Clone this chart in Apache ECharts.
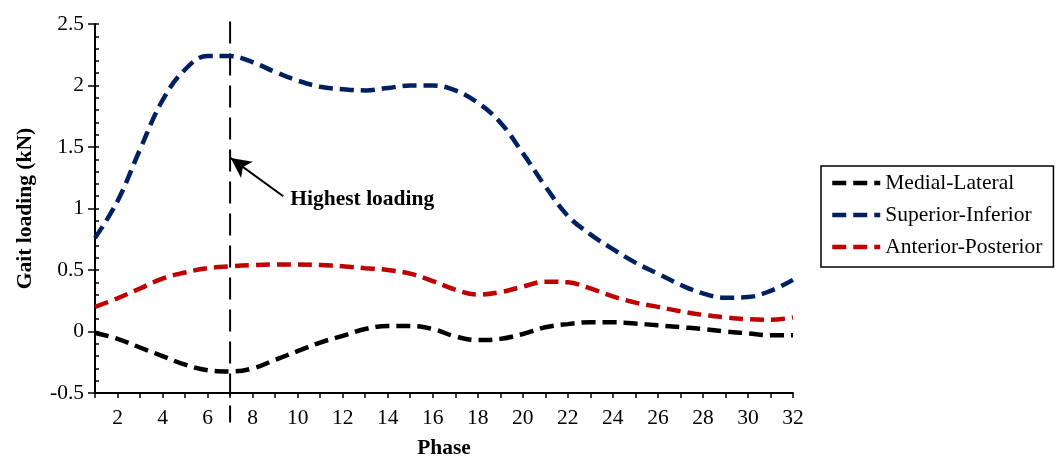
<!DOCTYPE html>
<html>
<head>
<meta charset="utf-8">
<script src="https://cdn.jsdelivr.net/npm/echarts@6/dist/echarts.min.js"></script>
<style>
html,body{margin:0;padding:0;background:#fff;}
#chart{width:1062px;height:457px;}
</style>
</head>
<body>
<div id="chart"></div>
<script>
var phases = [1,2,3,4,5,6,7,8,9,10,11,12,13,14,15,16,17,18,19,20,21,22,23,24,25,26,27,28,29,30,31,32];
var medialLateral = [-0.01,-0.06,-0.13,-0.2,-0.27,-0.315,-0.325,-0.3,-0.23,-0.16,-0.09,-0.035,0.02,0.045,0.045,0.02,-0.04,-0.07,-0.06,-0.02,0.035,0.06,0.075,0.075,0.065,0.05,0.035,0.02,0.0,-0.015,-0.03,-0.03];
var superiorInferior = [0.76,1.06,1.48,1.88,2.13,2.24,2.24,2.19,2.11,2.04,1.99,1.97,1.96,1.98,2.0,2.0,1.96,1.86,1.7,1.45,1.18,0.94,0.79,0.67,0.56,0.47,0.38,0.31,0.275,0.28,0.33,0.42];
var anteriorPosterior = [0.2,0.27,0.35,0.43,0.48,0.515,0.53,0.54,0.545,0.545,0.54,0.53,0.515,0.5,0.47,0.41,0.34,0.3,0.32,0.365,0.405,0.4,0.35,0.285,0.235,0.2,0.165,0.135,0.115,0.1,0.095,0.115];
var seriesNames = ['Medial-Lateral','Superior-Inferior','Anterior-Posterior'];
var seriesColors = ['#000000','#002060','#C00000'];
var peakPhase = 7;
var annotationText = 'Highest loading';

function pairs(vals){ return phases.map(function(p,i){ return [p, vals[i]]; }); }

var font = 'Liberation Serif';
var fs = 21.5;
var chart = echarts.init(document.getElementById('chart'), null, {renderer:'canvas'});

function lineSeries(name, vals, color){
  return {
    name: name, type: 'line', data: pairs(vals), smooth: 0.4,
    showSymbol: false, symbol: 'none', color: color,
    lineStyle: {color: color, width: 4.5, type: [14,7]},
    z: 3
  };
}

var option = {
  backgroundColor: '#ffffff',
  animation: false,
  textStyle: {fontFamily: font},
  grid: {left: 95, right: 269, top: 24, bottom: 64, containLabel: false, outerBoundsMode: 'none'},
  legend: {
    data: seriesNames,
    orient: 'vertical',
    left: 821, top: 166,
    padding: [6, 11, 9, 9],
    itemWidth: 48, itemHeight: 14, itemGap: 10,
    borderColor: '#000', borderWidth: 1.5,
    itemStyle: {opacity: 0},
    lineStyle: {width: 4.5, type: [14,7]},
    textStyle: {fontFamily: font, fontSize: fs, color: '#000'}
  },
  xAxis: {
    type: 'value', min: 1, max: 32, interval: 1,
    name: 'Phase', nameLocation: 'middle', nameGap: 44,
    nameTextStyle: {fontFamily: font, fontSize: fs, fontWeight: 'bold', color: '#000'},
    axisLine: {show: true, onZero: false, lineStyle: {color: '#000', width: 2}},
    axisTick: {show: true, length: 5, lineStyle: {color: '#000', width: 1.5}},
    axisLabel: {fontFamily: font, fontSize: fs, color: '#000', margin: 14,
      formatter: function(v){ return v % 2 === 0 ? String(v) : ''; }},
    splitLine: {show: false}
  },
  yAxis: [{
    type: 'value', min: -0.5, max: 2.5, interval: 0.5,
    name: 'Gait loading (kN)', nameLocation: 'middle', nameGap: 59,
    nameTextStyle: {fontFamily: font, fontSize: fs, fontWeight: 'bold', color: '#000'},
    axisLine: {show: true, onZero: false, lineStyle: {color: '#000', width: 2}},
    axisTick: {show: true, inside: true, length: 4, lineStyle: {color: '#000', width: 1.5}},
    minorTick: {show: true, splitNumber: 5, length: 4, lineStyle: {color: '#000', width: 1.5}},
    axisLabel: {fontFamily: font, fontSize: fs, color: '#000', margin: 11},
    splitLine: {show: false}
  },{
    type: 'value', min: -0.5, max: 2.5, interval: 0.5, position: 'left',
    axisLine: {show: false},
    axisTick: {show: true, inside: false, length: 7, lineStyle: {color: '#000', width: 1.5}},
    axisLabel: {show: false},
    splitLine: {show: false}
  }],
  series: [
    lineSeries(seriesNames[0], medialLateral, seriesColors[0]),
    lineSeries(seriesNames[1], superiorInferior, seriesColors[1]),
    lineSeries(seriesNames[2], anteriorPosterior, seriesColors[2]),
    {
      name: 'peak', type: 'line', clip: false, silent: true,
      data: [[peakPhase, 2.52], [peakPhase, -0.74]],
      symbol: 'none', lineStyle: {color: '#000', width: 2, type: [22,10]}, z: 2,
      markLine: {
        silent: true, animation: false,
        symbol: ['none', 'arrow'], symbolSize: [15, 20],
        label: {show: false},
        lineStyle: {color: '#000', width: 2, type: 'solid'},
        data: [[{coord: [9.36, 1.1]}, {coord: [peakPhase + 0.03, 1.41]}]]
      },
      markPoint: {
        silent: true, animation: false,
        data: [{coord: [12.87, 1.073], symbol: 'circle', symbolSize: 0,
          label: {show: true, position: 'inside', formatter: annotationText,
            fontFamily: font, fontSize: fs, fontWeight: 'bold', color: '#000'}}]
      }
    }
  ]
};
chart.setOption(option);
</script>
</body>
</html>
